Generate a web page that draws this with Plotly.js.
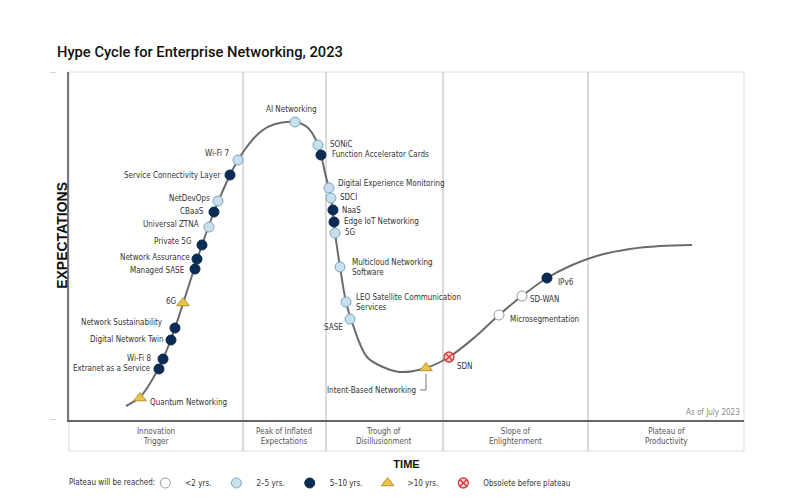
<!DOCTYPE html>
<html><head><meta charset="utf-8">
<script src="https://cdn.plot.ly/plotly-3.0.1.min.js"></script>
<style>html,body{margin:0;padding:0;background:#fff}#chart{width:803px;height:501px}</style>
</head><body><div id="chart"></div>
<script>
// ---- data (x = time 0..100, y = expectations 0..100)
const curveX = [8.44,10.52,12.30,13.93,15.70,17.63,19.70,21.48,23.85,25.04,26.22,27.70,29.48,31.56,33.48,35.26,36.44,37.33,37.93,38.81,39.41,40.15,41.04,42.07,44.15,46.52,49.04,52.89,56.30,60.15,63.70,67.11,70.81,74.22,78.67,83.11,87.56,92.30];
const curveY = [4.02,6.61,11.49,17.53,26.44,37.93,50.29,59.77,70.40,74.71,78.16,81.61,84.20,85.49,85.63,84.20,81.03,76.15,70.98,63.79,53.74,43.97,33.91,27.30,18.10,15.23,13.79,14.94,18.10,23.85,30.17,35.63,40.80,44.25,47.41,49.14,50.00,50.29];

const techNames = ["Quantum Networking","Extranet as a Service","Wi-Fi 8","Digital Network Twin","Network Sustainability","6G","Managed SASE","Network Assurance","Private 5G","Universal ZTNA","CBaaS","NetDevOps","Service Connectivity Layer","Wi-Fi 7","AI Networking","SONiC","Function Accelerator Cards","Digital Experience Monitoring","SDCI","NaaS","Edge IoT Networking","5G","Multicloud Networking<br>Software","LEO Satellite Communication<br>Services","SASE","Intent-Based Networking","SDN","Microsegmentation","SD-WAN","IPv6"];
const techX = [10.52,13.33,13.93,15.11,15.70,16.89,18.67,18.96,19.70,20.74,21.48,22.07,23.85,25.04,33.48,36.89,37.33,38.52,38.81,39.11,39.26,39.41,40.15,41.04,41.63,52.89,56.30,63.70,67.11,70.81];
const techY = [6.32,14.66,17.53,22.99,26.44,33.62,43.39,46.26,50.29,55.46,59.77,62.93,70.40,74.71,85.63,79.02,76.15,66.67,63.79,60.34,56.90,53.74,43.97,33.91,29.02,14.94,18.10,30.17,35.63,40.80];
// 0 = <2 yrs, 1 = 2-5 yrs, 2 = 5-10 yrs, 3 = >10 yrs, 4 = obsolete
const techPlateau = [3,2,2,2,2,3,2,2,2,1,2,1,2,1,1,1,2,1,1,2,2,1,1,1,1,3,4,0,0,2];

const plateauNames = ["<2 yrs.","2\u20135 yrs.","5\u201310 yrs.",">10 yrs.","Obsolete before plateau"];
const legendTitle = "Plateau will be reached:";
const phaseNames = ["Innovation<br>Trigger","Peak of Inflated<br>Expectations","Trough of<br>Disillusionment","Slope of<br>Enlightenment","Plateau of<br>Productivity"];
const phaseBounds = [0,25.78,38.07,55.41,76.89,100];

// ---- styles
const labelFont = "'DejaVu Sans Condensed','Liberation Sans Narrow','Roboto',sans-serif";
const labelSize = 8;
const boldFont = "'Liberation Sans', Arial, sans-serif";
// label placement: anchor side, pixel shift
const labelAnchor = ["left","right","right","right","right","right","right","right","right","right","right","right","right","right","center","left","left","left","left","left","left","left","left","left","right","right","left","left","left","left"];
const labelDx = [8,-7,-10,-6,-10,-5,-8,-5,-8,-8,-8,-6,-8,-7,-3,10,9,7,7,7,8,8,10,8,-5,-8,6,9,6,9];
const labelDy = [-4,0,1,0,5,2,-1,2,3,3,1,3,0,7,13,1,1,4,1,0,0,0,-1,-1,-8,-22,-9,-4,-3,-4];

const markerStyles = [
  {symbol:"circle", size:10, color:"#ffffff", line:{color:"#9a9a9a", width:1}},
  {symbol:"circle", size:10, color:"#c8dfec", line:{color:"#7ea6c0", width:1}},
  {symbol:"circle", size:10, color:"#0c2b53", line:{color:"#0c2b53", width:1}},
  {symbol:"triangle-up", size:11, color:"#e8c24a", line:{color:"#b8952e", width:1}},
  {symbol:"circle-x", size:10, color:"#f7d0d0", line:{color:"#d63a3a", width:1.3}}
];

const traces = [{
  x: curveX, y: curveY, mode: "lines", type: "scatter",
  line: {shape: "spline", smoothing: 1, color: "#6b6b6b", width: 2},
  hoverinfo: "skip", showlegend: false
}];
plateauNames.forEach((nm, k) => {
  const idx = techPlateau.map((p, i) => p === k ? i : -1).filter(i => i >= 0);
  traces.push({
    type: "scatter", mode: "markers", name: nm,
    x: idx.map(i => techX[i]), y: idx.map(i => techY[i]),
    text: idx.map(i => techNames[i].replace("<br>", " ")),
    hoverinfo: "text",
    marker: markerStyles[k]
  });
});

const annotations = techNames.map((t, i) => ({
  x: techX[i], y: techY[i], xref: "x", yref: "y", text: t, showarrow: false,
  xanchor: labelAnchor[i], yanchor: "middle", align: "left",
  xshift: labelDx[i], yshift: labelDy[i],
  font: {family: labelFont, size: labelSize, color: "#333"}
}));
phaseNames.forEach((p, i) => annotations.push({
  x: (phaseBounds[i] + phaseBounds[i+1]) / 2, y: -0.046, xref: "x", yref: "paper",
  text: p, showarrow: false, xanchor: "center", yanchor: "middle",
  font: {family: labelFont, size: labelSize, color: "#555"}
}));
annotations.push({
  x: 1, y: 0, xref: "paper", yref: "paper", text: "As of July 2023", showarrow: false,
  xanchor: "right", yanchor: "bottom", xshift: -2, yshift: 1,
  font: {family: labelFont, size: labelSize, color: "#888"}
});
annotations.push({
  x: 0, y: -0.181, xref: "paper", yref: "paper", text: legendTitle, showarrow: false,
  xanchor: "left", yanchor: "middle", xshift: -2,
  font: {family: labelFont, size: labelSize, color: "#333"}
});
annotations.push({
  x: -0.0104, y: 0.532, xref: "paper", yref: "paper", text: "<b>EXPECTATIONS</b>", showarrow: false,
  textangle: -90, xanchor: "center", yanchor: "middle",
  font: {family: boldFont, size: 14, color: "#111"}
});

const shapes = [
  {type: "rect", xref: "paper", yref: "paper", x0: 0, x1: 1, y0: -0.089, y1: 1,
   line: {color: "#dcdcdc", width: 1}, layer: "below"}
];
phaseBounds.slice(1, -1).forEach(b => shapes.push({
  type: "line", xref: "x", yref: "paper", x0: b, x1: b, y0: -0.089, y1: 1,
  line: {color: "#b5b5b5", width: 1}, layer: "below"
}));
[0, 100].forEach(v => shapes.push({
  type: "line", xref: "paper", yref: "y", x0: -0.0281, x1: -0.0193, y0: v, y1: v,
  line: {color: "#aaaaaa", width: 1}
}));
// leader line for Intent-Based Networking
const ib = techNames.indexOf("Intent-Based Networking");
shapes.push({
  type: "path", xref: "x", yref: "y", xsizemode: "pixel", ysizemode: "pixel",
  xanchor: techX[ib], yanchor: techY[ib],
  path: "M 0,-6 L 0,-22 L -6,-22", line: {color: "#777", width: 1}
});

const layout = {
  width: 803, height: 501,
  margin: {l: 69, r: 59, t: 72, b: 81, autoexpand: false},
  paper_bgcolor: "#fff", plot_bgcolor: "#fff",
  title: {text: "Hype Cycle for Enterprise Networking, 2023", x: 0.071, xanchor: "left", y: 0.896, yanchor: "middle",
          font: {family: "Roboto, sans-serif", size: 14.7, color: "#111", weight: 500}},
  xaxis: {range: [0, 100], showgrid: false, zeroline: false, showticklabels: false, ticks: "",
          showline: true, linecolor: "#666", linewidth: 1.5, fixedrange: true, automargin: false,
          title: {text: "TIME", standoff: 40, font: {family: boldFont, size: 11, color: "#111", weight: "bold"}}},
  yaxis: {range: [0, 100], showgrid: false, zeroline: false, showticklabels: false, ticks: "",
          showline: true, linecolor: "#777", linewidth: 1.5, fixedrange: true, automargin: false},
  showlegend: true,
  legend: {orientation: "h", x: 0.113, xanchor: "left", y: -0.181, yanchor: "middle",
           font: {family: labelFont, size: labelSize, color: "#333"}, itemwidth: 30, bgcolor: "rgba(0,0,0,0)"},
  annotations: annotations, shapes: shapes,
  hovermode: "closest"
};
Plotly.newPlot("chart", traces, layout, {displayModeBar: false});
</script></body></html>
